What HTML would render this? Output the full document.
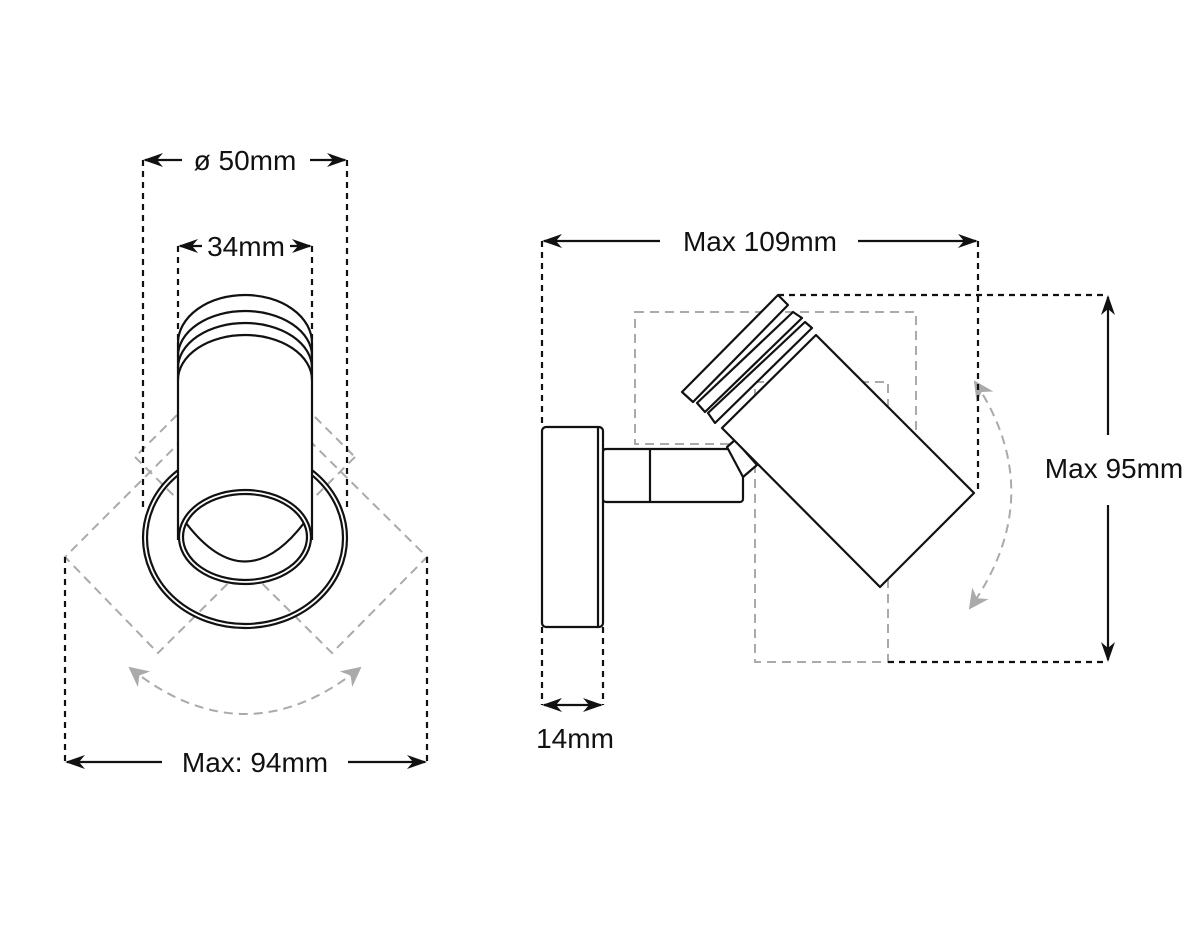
<!DOCTYPE html>
<html><head><meta charset="utf-8"><style>
html,body{margin:0;padding:0;background:#fff;width:1200px;height:950px;overflow:hidden}
text{font-family:"Liberation Sans",Arial,sans-serif;font-size:28px;fill:#111}
</style></head><body>
<svg width="1200" height="950" viewBox="0 0 1200 950" xmlns="http://www.w3.org/2000/svg">
<defs>
<marker id="a" viewBox="0 0 10 10" refX="9" refY="5" markerWidth="20" markerHeight="20" markerUnits="userSpaceOnUse" orient="auto-start-reverse"><path d="M0,1.5 L10,5 L0,8.5 L3,5 Z" fill="#111"/></marker>
<marker id="g" viewBox="0 0 10 10" refX="9" refY="5" markerWidth="20" markerHeight="20" markerUnits="userSpaceOnUse" orient="auto-start-reverse"><path d="M0,0 L10,5 L0,10 L3,5 Z" fill="#aaa"/></marker>
</defs>

<!-- LEFT VIEW -->
<g fill="none" stroke="#aaa" stroke-width="2" stroke-dasharray="9,6">
<polygon points="135,457 332,653 427,557 230,362"/>
<polygon points="355,457 158,653 65,557 260,362"/>
<path d="M130,668 Q245,760 360,668" marker-start="url(#g)" marker-end="url(#g)"/>
</g>
<g fill="none" stroke="#111" stroke-width="2.2" stroke-dasharray="6,5">
<line x1="143" y1="160" x2="143" y2="510"/>
<line x1="347" y1="160" x2="347" y2="510"/>
<line x1="178" y1="246" x2="178" y2="345"/>
<line x1="312" y1="246" x2="312" y2="345"/>
<line x1="65" y1="557" x2="65" y2="765"/>
<line x1="427" y1="557" x2="427" y2="765"/>
</g>
<g fill="none" stroke="#111" stroke-width="2.2">
<ellipse cx="245" cy="538" rx="102" ry="90"/>
<ellipse cx="245" cy="538" rx="98" ry="86"/>
<path d="M178,540 L178,343 A67,48 0 0 1 312,343 L312,540" fill="#fff"/>
<path d="M178,356 A67,45 0 0 1 312,356"/>
<path d="M178,368 A67,45 0 0 1 312,368"/>
<path d="M178,380 A67,45 0 0 1 312,380"/>
<ellipse cx="245" cy="537" rx="66" ry="47" fill="#fff"/>
<ellipse cx="245" cy="537" rx="62" ry="43"/>
<path d="M186,523 Q245,600 304,523"/>
</g>
<g stroke="#111" stroke-width="2.2" fill="none">
<line x1="182" y1="160" x2="145" y2="160" marker-end="url(#a)"/>
<line x1="310" y1="160" x2="345" y2="160" marker-end="url(#a)"/>
<line x1="202" y1="246" x2="180" y2="246" marker-end="url(#a)"/>
<line x1="290" y1="246" x2="310" y2="246" marker-end="url(#a)"/>
<line x1="162" y1="762" x2="67" y2="762" marker-end="url(#a)"/>
<line x1="348" y1="762" x2="425" y2="762" marker-end="url(#a)"/>
</g>
<text x="245" y="170" text-anchor="middle">ø 50mm</text>
<text x="246" y="256" text-anchor="middle">34mm</text>
<text x="255" y="772" text-anchor="middle">Max: 94mm</text>

<!-- RIGHT VIEW -->
<g fill="none" stroke="#aaa" stroke-width="2" stroke-dasharray="9,6">
<rect x="635" y="312" width="281" height="132"/>
<rect x="755" y="382" width="133" height="280"/>
<path d="M975,382 Q1050,495 970,608" marker-start="url(#g)" marker-end="url(#g)"/>
</g>
<g fill="none" stroke="#111" stroke-width="2.2" stroke-dasharray="6,5">
<line x1="542" y1="241" x2="542" y2="427"/>
<line x1="978" y1="241" x2="978" y2="493"/>
<line x1="778" y1="295" x2="1108" y2="295"/>
<line x1="888" y1="662" x2="1108" y2="662"/>
<line x1="542" y1="627" x2="542" y2="705"/>
<line x1="603" y1="627" x2="603" y2="705"/>
</g>
<g fill="#fff" stroke="#111" stroke-width="2.2" stroke-linejoin="round">
<rect x="542" y="427" width="61" height="200" rx="4"/>
<line x1="598" y1="427" x2="598" y2="627"/>
<rect x="603" y="449" width="140" height="53" rx="3"/>
<line x1="650" y1="449" x2="650" y2="502"/>
<polygon points="727,447 743,477 757,465 735,440"/>
<polygon points="722,428 816,335 974,493 880,587"/>
<polygon points="708,413 805,322 812,328 715,423"/>
<polygon points="697,403 793,312 802,318 705,412"/>
<polygon points="682,392 778,295 788,305 693,402"/>
</g>
<g stroke="#111" stroke-width="2.2" fill="none">
<line x1="660" y1="241" x2="544" y2="241" marker-end="url(#a)"/>
<line x1="858" y1="241" x2="976" y2="241" marker-end="url(#a)"/>
<line x1="1108" y1="435" x2="1108" y2="297" marker-end="url(#a)"/>
<line x1="1108" y1="505" x2="1108" y2="660" marker-end="url(#a)"/>
<line x1="544" y1="705" x2="601" y2="705" marker-end="url(#a)" marker-start="url(#a)"/>
</g>
<text x="760" y="251" text-anchor="middle">Max 109mm</text>
<text x="1114" y="478" text-anchor="middle">Max 95mm</text>
<text x="575" y="748" text-anchor="middle">14mm</text>
</svg>
</body></html>
